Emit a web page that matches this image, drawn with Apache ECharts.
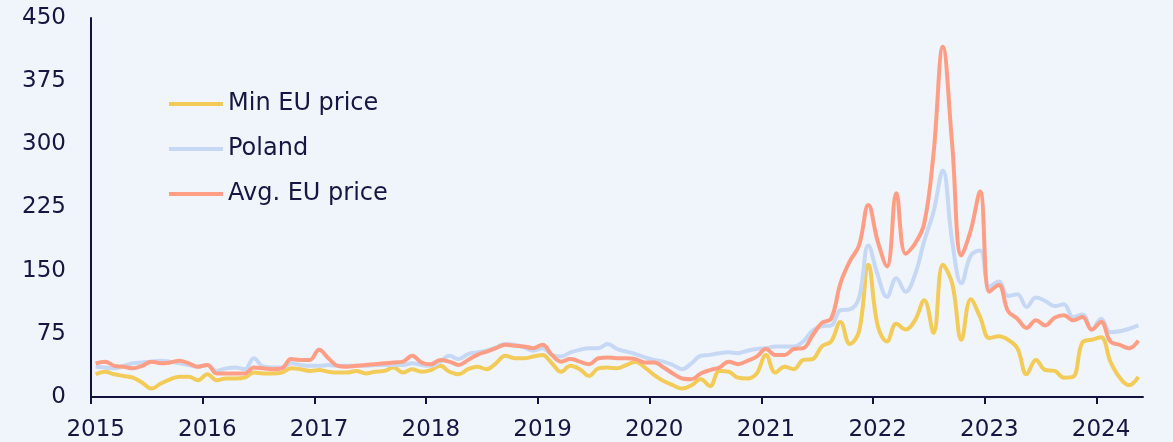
<!DOCTYPE html>
<html>
<head>
<meta charset="utf-8">
<script src="https://cdn.jsdelivr.net/npm/echarts@6/dist/echarts.min.js"></script>
<style>
  html, body { margin: 0; padding: 0; background: #f0f5fc; }
  #chart { width: 1173px; height: 442px; }
</style>
</head>
<body>
<div id="chart"></div>
<script>
// monthly, Jan 2015 .. May 2024
const years = [2015, 2016, 2017, 2018, 2019, 2020, 2021, 2022, 2023, 2024]

const minEU = [
  27, 30, 27, 25, 23, 17, 10, 16, 21, 24, 24, 20,
  27, 20, 22, 22, 23, 29, 28, 28, 29, 34, 33, 31,
  32, 30, 29, 29, 31, 28, 30, 31, 35, 29, 33, 30,
  32, 37, 30, 27, 33, 36, 33, 40, 49, 46, 46, 48,
  50, 40, 30, 37, 33, 25, 34, 35, 34, 38, 42, 35,
  26, 19, 14, 10, 14, 21, 13, 31, 30, 23, 22, 28,
  50, 29, 36, 33, 44, 45, 60, 66, 89, 63, 78, 157,
  85, 66, 87, 80, 91, 115, 76, 157, 135, 68, 116, 95,
  70, 72, 68, 58, 27, 44, 32, 31, 23, 24, 65, 68,
  71, 42, 23, 14, 24
]

const poland = [
  36, 35, 34, 37, 40, 41, 42, 43, 42, 40, 38, 36,
  38, 31, 34, 35, 33, 46, 36, 35, 35, 40, 38, 37,
  37, 38, 37, 37, 37, 37, 38, 38, 38, 38, 40, 38,
  37, 42, 49, 45, 51, 53, 55, 59, 63, 62, 59, 55,
  58, 50, 48, 53, 56, 58, 58, 63, 57, 54, 51, 47,
  44, 42, 38, 33, 40, 49, 50, 52, 53, 52, 55, 57,
  58, 60, 60, 60, 66, 79, 84, 85, 103, 104, 118, 180,
  145, 119, 141, 125, 145, 185, 220, 269, 185, 135, 168, 174,
  131, 137, 120, 122, 107, 118, 114, 108, 110, 95, 98, 80,
  93, 77, 78, 81, 85
]

const avgEU = [
  40, 42, 37, 36, 34, 37, 42, 40, 41, 43, 40, 36,
  38, 28, 28, 28, 28, 35, 34, 33, 34, 45, 44, 44,
  56, 46, 37, 36, 37, 38, 39, 40, 41, 42, 49, 41,
  39, 44, 42, 38, 44, 50, 54, 58, 62, 61, 60, 58,
  62, 50, 42, 45, 42, 39, 46, 47, 46, 46, 45, 41,
  41, 35, 28, 22, 21, 28, 32, 35, 42, 39, 43, 48,
  57, 50, 50, 57, 58, 73, 88, 93, 135, 161, 180, 228,
  185, 155, 242, 170, 182, 206, 289, 416, 300, 168, 198, 244,
  125, 133, 102, 93, 82, 91, 85, 94, 97, 91, 95, 80,
  89, 66, 62, 58, 67
]

// x is months since Jan 2015, points sit mid-month
const nMonths = minEU.length
const yearStarts = years.map((y, i) => i * 12)
const yearLabelPos = years.map((y, i) => i * 12 + 0.5)
const toXY = arr => arr.map((v, i) => [i + 0.5, v])

const textColor = '#161640'
const axisColor = '#12123f'

const chart = echarts.init(document.getElementById('chart'))

chart.setOption({
  backgroundColor: '#f0f5fc',
  textStyle: { fontFamily: 'DejaVu Sans', color: textColor },
  animation: false,
  grid: { left: 91, right: 30, top: 18, bottom: 45, containLabel: false },
  legend: {
    orient: 'vertical',
    left: 164,
    top: 87,
    itemWidth: 54,
    itemHeight: 4,
    itemGap: 21,
    icon: 'rect',
    textStyle: { fontSize: 24, color: textColor, fontFamily: 'DejaVu Sans' },
    data: ['Min EU price', 'Poland', 'Avg. EU price']
  },
  xAxis: {
    type: 'value',
    min: 0,
    max: nMonths,
    interval: 12,
    axisLine: { lineStyle: { color: axisColor, width: 2 } },
    axisTick: { show: true, customValues: yearStarts, length: 7, lineStyle: { color: axisColor, width: 2 } },
    axisLabel: {
      customValues: yearLabelPos,
      margin: 22,
      fontSize: 23,
      color: textColor,
      formatter: function (v) { return String(years[Math.floor(v / 12)]) }
    },
    splitLine: { show: false }
  },
  yAxis: {
    type: 'value',
    min: 0,
    max: 450,
    interval: 75,
    axisLine: { show: true, lineStyle: { color: axisColor, width: 2 } },
    axisTick: { show: false },
    axisLabel: { fontSize: 23, color: textColor, margin: 25 },
    splitLine: { show: false }
  },
  series: [
    {
      name: 'Min EU price', type: 'line', data: toXY(minEU), smooth: 0.4,
      showSymbol: false, symbol: 'none',
      lineStyle: { color: '#f2cb59', width: 4 }, itemStyle: { color: '#f2cb59' }
    },
    {
      name: 'Poland', type: 'line', data: toXY(poland), smooth: 0.4,
      showSymbol: false, symbol: 'none',
      lineStyle: { color: '#c6d8f4', width: 4 }, itemStyle: { color: '#c6d8f4' }
    },
    {
      name: 'Avg. EU price', type: 'line', data: toXY(avgEU), smooth: 0.4,
      showSymbol: false, symbol: 'none',
      lineStyle: { color: '#ff9e84', width: 4 }, itemStyle: { color: '#ff9e84' }
    }
  ]
})
</script>
</body>
</html>
